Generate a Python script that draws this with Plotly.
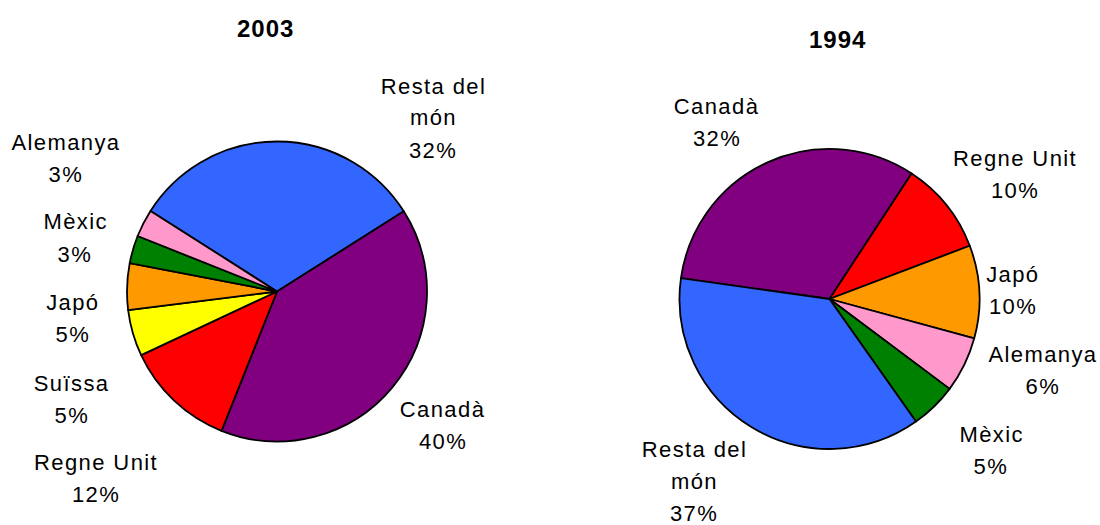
import textwrap
import plotly.graph_objects as go

# Export destinations, share of total (%)
years = ["2003", "1994"]

countries_2003 = ["Resta del món", "Canadà", "Regne Unit", "Suïssa", "Japó", "Mèxic", "Alemanya"]
shares_2003 = [32, 40, 12, 5, 5, 3, 3]

countries_1994 = ["Canadà", "Regne Unit", "Japó", "Alemanya", "Mèxic", "Resta del món"]
shares_1994 = [32, 10, 10, 6, 5, 37]

# Colour per country (shared between both pies)
palette = {
    "Resta del món": "#3366FF",
    "Canadà": "#800080",
    "Regne Unit": "#FF0000",
    "Suïssa": "#FFFF00",
    "Japó": "#FF9900",
    "Mèxic": "#008000",
    "Alemanya": "#FF99CC",
}

W, H = 1100, 525
FONT = "Liberation Sans, Arial, Helvetica, sans-serif"
LABEL_SIZE = 22
LINE_STEP = 32


def px(x):
    return x / W


def py(y):
    return 1 - y / H


# Pie geometry: centre (pixels), radius, start angle
pies = [
    dict(year=years[0], labels=countries_2003, values=shares_2003,
         cx=277, cy=291.5, r=150, rotation=-57.5, title_xy=(265, 28.5),
         label_xy={
             "Resta del món": (433, 86),
             "Canadà": (443, 409),
             "Regne Unit": (96, 462),
             "Suïssa": (72, 383),
             "Japó": (73, 302),
             "Mèxic": (75, 222),
             "Alemanya": (66, 142),
         }),
    dict(year=years[1], labels=countries_1994, values=shares_1994,
         cx=829.5, cy=299, r=150, rotation=-82, title_xy=(838, 39),
         label_xy={
             "Canadà": (717, 106),
             "Regne Unit": (1015, 158),
             "Japó": (1013, 274),
             "Alemanya": (1043, 354),
             "Mèxic": (991, 434),
             "Resta del món": (694, 449),
         }),
]

fig = go.Figure()
annotations = []

for p in pies:
    fig.add_trace(go.Pie(
        labels=p["labels"],
        values=p["values"],
        sort=False,
        direction="clockwise",
        rotation=p["rotation"],
        textinfo="none",
        hoverinfo="label+percent",
        showlegend=False,
        marker=dict(colors=[palette[c] for c in p["labels"]],
                    line=dict(color="#000000", width=1.8)),
        domain=dict(x=[px(p["cx"] - p["r"]), px(p["cx"] + p["r"])],
                    y=[py(p["cy"] + p["r"]), py(p["cy"] - p["r"])]),
    ))

    tx, ty = p["title_xy"]
    annotations.append(dict(
        text=p["year"], x=px(tx), y=py(ty), xref="paper", yref="paper",
        xanchor="center", yanchor="middle", showarrow=False,
        font=dict(family=FONT, size=24, color="#000000", weight="bold"),
    ))

    for name, val in zip(p["labels"], p["values"]):
        lx, ly = p["label_xy"][name]
        lines = textwrap.wrap(name, width=10) + [f"{val}%"]
        for i, line in enumerate(lines):
            annotations.append(dict(
                text=line, x=px(lx), y=py(ly + i * LINE_STEP),
                xref="paper", yref="paper",
                xanchor="center", yanchor="middle", showarrow=False,
                font=dict(family=FONT, size=LABEL_SIZE, color="#000000"),
            ))

fig.update_layout(
    width=W, height=H,
    margin=dict(l=0, r=0, t=0, b=0),
    paper_bgcolor="#FFFFFF",
    plot_bgcolor="#FFFFFF",
    annotations=annotations,
)

# Slightly tracked lettering for the labels and titles
tracking_js = """
var gd = document.getElementById('{plot_id}');
function track() {
  gd.querySelectorAll('.annotation-text').forEach(function (el) {
    var w = parseInt(getComputedStyle(el).fontWeight, 10);
    el.style.letterSpacing = (w >= 600) ? '1px' : '1.4px';
  });
}
track();
gd.on('plotly_afterplot', track);
"""

fig.write_html("out.html", post_script=tracking_js, config={"displayModeBar": False})
